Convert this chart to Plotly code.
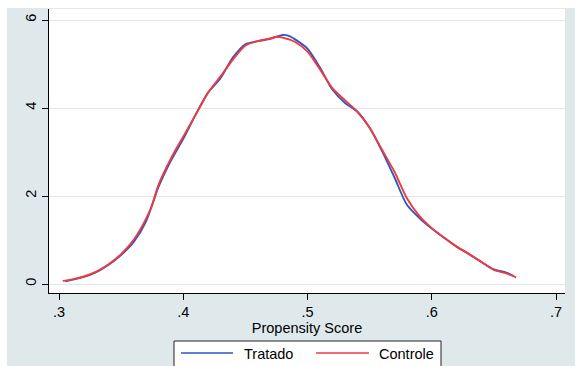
import plotly.graph_objects as go

# Kernel density estimates of the propensity score, by group
tratado_x = [0.305, 0.32, 0.33, 0.34, 0.35, 0.36, 0.37, 0.38, 0.39, 0.40, 0.41, 0.42,
             0.43, 0.44, 0.45, 0.46, 0.47, 0.48, 0.485, 0.49, 0.50, 0.51, 0.52, 0.53,
             0.54, 0.55, 0.56, 0.57, 0.58, 0.59, 0.60, 0.61, 0.62, 0.63, 0.64, 0.65,
             0.66, 0.666]
tratado_y = [0.06, 0.16, 0.27, 0.44, 0.66, 0.95, 1.42, 2.20, 2.80, 3.30, 3.85, 4.35,
             4.68, 5.15, 5.45, 5.52, 5.57, 5.66, 5.64, 5.56, 5.35, 4.92, 4.42, 4.12,
             3.92, 3.55, 3.02, 2.42, 1.80, 1.50, 1.26, 1.05, 0.85, 0.68, 0.50, 0.33,
             0.26, 0.18]

controle_x = [0.303, 0.31, 0.32, 0.33, 0.34, 0.35, 0.36, 0.37, 0.375, 0.38, 0.39, 0.40,
              0.41, 0.42, 0.43, 0.44, 0.45, 0.46, 0.47, 0.475, 0.48, 0.49, 0.50, 0.51,
              0.52, 0.53, 0.54, 0.55, 0.56, 0.57, 0.58, 0.59, 0.60, 0.61, 0.62, 0.63,
              0.64, 0.65, 0.66, 0.668]
controle_y = [0.07, 0.10, 0.17, 0.28, 0.45, 0.68, 1.00, 1.48, 1.80, 2.25, 2.85, 3.35,
              3.85, 4.35, 4.72, 5.10, 5.42, 5.52, 5.58, 5.62, 5.60, 5.50, 5.28, 4.88,
              4.45, 4.18, 3.92, 3.55, 3.05, 2.55, 1.95, 1.55, 1.27, 1.05, 0.85, 0.68,
              0.50, 0.32, 0.24, 0.15]

x_ticks = [0.3, 0.4, 0.5, 0.6, 0.7]
x_tick_text = [".3", ".4", ".5", ".6", ".7"]
y_ticks = [0, 2, 4, 6]
series_names = ["Tratado", "Controle"]

BLUE = "#2f56c4"
RED = "#f23a3a"
BG = "#dfe9ec"
GRID = "#dbe7ea"
FONT = "Liberation Sans, Arial, sans-serif"

W, H = 575, 366
L, R, T, B = 49, 10, 9, 73
PW, PH = W - L - R, H - T - B


def px_x(p):
    return (p - L) / PW


def px_y(p):
    return (H - B - p) / PH


fig = go.Figure()
fig.add_trace(go.Scatter(x=tratado_x, y=tratado_y, mode="lines", name=series_names[0],
                         line=dict(color=BLUE, width=1.9, shape="spline", smoothing=0.7)))
fig.add_trace(go.Scatter(x=controle_x, y=controle_y, mode="lines", name=series_names[1],
                         line=dict(color=RED, width=1.9, shape="spline", smoothing=0.7)))

shapes = [
    # white strips framing the graph region
    dict(type="rect", xref="paper", yref="paper", x0=px_x(0), x1=px_x(7), y0=px_y(0), y1=px_y(H),
         fillcolor="white", line_width=0, layer="below"),
    dict(type="rect", xref="paper", yref="paper", x0=px_x(0), x1=px_x(W), y0=px_y(0), y1=px_y(8),
         fillcolor="white", line_width=0, layer="below"),
    # legend box
    dict(type="rect", xref="paper", yref="paper", x0=px_x(174), x1=px_x(441), y0=px_y(341), y1=px_y(374),
         fillcolor="white", line=dict(color="#222222", width=1)),
    dict(type="line", xref="paper", yref="paper", x0=px_x(181), x1=px_x(233), y0=px_y(353), y1=px_y(353),
         line=dict(color=BLUE, width=1.6)),
    dict(type="line", xref="paper", yref="paper", x0=px_x(316), x1=px_x(369), y0=px_y(353), y1=px_y(353),
         line=dict(color=RED, width=1.6)),
]

annotations = [
    dict(text=series_names[0], xref="paper", yref="paper", x=px_x(242), y=px_y(354),
         xanchor="left", yanchor="middle", showarrow=False, font=dict(family=FONT, size=14.5, color="black")),
    dict(text=series_names[1], xref="paper", yref="paper", x=px_x(377), y=px_y(354),
         xanchor="left", yanchor="middle", showarrow=False, font=dict(family=FONT, size=14.5, color="black")),
]

fig.update_layout(
    width=W, height=H,
    margin=dict(l=L, r=R, t=T, b=B, pad=0),
    paper_bgcolor=BG, plot_bgcolor="white",
    showlegend=False,
    font=dict(family=FONT, size=14.5, color="black"),
    shapes=shapes, annotations=annotations,
)

fig.update_xaxes(
    range=[0.3 - 10 / 1242.5, 0.7 + 9 / 1242.5],
    tickvals=x_ticks, ticktext=x_tick_text,
    showgrid=False, zeroline=False,
    showline=True, linecolor="black", linewidth=1,
    ticks="outside", ticklen=6, tickcolor="black", tickwidth=1,
    title=dict(text="Propensity Score", standoff=2, font=dict(size=14.5)),
)
fig.update_yaxes(
    range=[-9 / 44, 6 + 11 / 44],
    tickvals=y_ticks, tickangle=-90,
    showgrid=True, gridcolor=GRID, gridwidth=1, zeroline=False,
    showline=True, linecolor="black", linewidth=1,
    ticks="outside", ticklen=6, tickcolor="black", tickwidth=1,
)

fig.write_html("out.html")
